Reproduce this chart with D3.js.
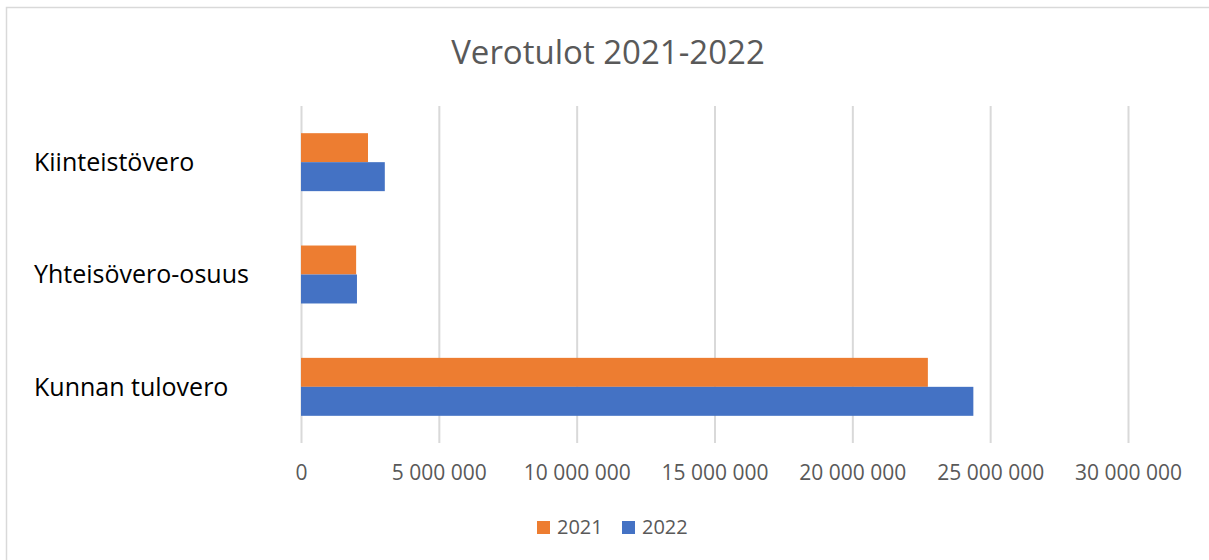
<!DOCTYPE html>
<html>
<head>
<meta charset="utf-8">
<script src="https://cdn.jsdelivr.net/npm/d3@7"></script>
<style>
  body { margin: 0; background: #fff; }
  text { font-family: "Open Sans", sans-serif; }
</style>
</head>
<body>
<script>
var categories = ["Kiinteistövero", "Yhteisövero-osuus", "Kunnan tulovero"];
var seriesNames = ["2021", "2022"];
var values2021 = [2430000, 2000000, 22740000];
var values2022 = [3040000, 2030000, 24390000];
var tickValues = [0, 5000000, 10000000, 15000000, 20000000, 25000000, 30000000];
var colors = ["#ED7D31", "#4472C4"];

var svg = d3.select("body")
    .append("svg")
    .attr("width", 1209)
    .attr("height", 560)
    .style("display", "block");

// outer chart border
svg.append("rect")
    .attr("x", 6.5)
    .attr("y", 7.5)
    .attr("width", 1220)
    .attr("height", 570)
    .attr("fill", "#fff")
    .attr("stroke", "#d9d9d9")
    .attr("stroke-width", 1.5);

var plot = {left: 301, right: 1128, top: 106, bottom: 443};

var x = d3.scaleLinear()
    .domain([0, 30000000])
    .range([plot.left, plot.right]);

var y = d3.scaleBand()
    .domain(categories)
    .range([plot.top, plot.bottom])
    .paddingInner(0.484)
    .paddingOuter(0.242);

var ySub = d3.scaleBand()
    .domain(seriesNames)
    .range([0, y.bandwidth()]);

var locale = d3.formatLocale({decimal: ",", thousands: " ", grouping: [3], currency: ["", " €"]});
var fmt = locale.format(",d");

// gridlines + tick labels
var xAxis = d3.axisBottom(x)
    .tickValues(tickValues)
    .tickSize(-(plot.bottom - plot.top))
    .tickFormat(fmt);

var gx = svg.append("g")
    .attr("transform", "translate(0," + plot.bottom + ")")
    .call(xAxis);
gx.select(".domain").remove();
gx.selectAll(".tick line").attr("stroke", "#d9d9d9").attr("stroke-width", 2);
gx.selectAll(".tick text")
    .attr("y", 30)
    .attr("dy", "0.35em")
    .attr("fill", "#595959")
    .style("font-size", "21px");

// bars
var rows = categories.map(function(c, i) {
    return {cat: c, vals: [values2021[i], values2022[i]]};
});

var groups = svg.selectAll(".grp")
    .data(rows)
    .enter()
    .append("g")
    .attr("class", "grp")
    .attr("transform", function(d) { return "translate(0," + y(d.cat) + ")"; });

groups.selectAll("rect")
    .data(function(d) { return d.vals.map(function(v, j) { return {s: seriesNames[j], v: v, j: j}; }); })
    .enter()
    .append("rect")
    .attr("x", x(0))
    .attr("y", function(d) { return ySub(d.s); })
    .attr("width", function(d) { return x(d.v) - x(0); })
    .attr("height", ySub.bandwidth())
    .attr("fill", function(d) { return colors[d.j]; });

// category labels
svg.selectAll(".cat")
    .data(categories)
    .enter()
    .append("text")
    .attr("class", "cat")
    .attr("x", 34)
    .attr("y", function(d) { return y(d) + y.bandwidth() / 2; })
    .attr("dy", "0.35em")
    .attr("fill", "#000")
    .style("font-size", "25px")
    .text(function(d) { return d; });

// title
svg.append("text")
    .attr("x", 608)
    .attr("y", 52)
    .attr("dy", "0.35em")
    .attr("text-anchor", "middle")
    .attr("fill", "#595959")
    .style("font-size", "33px")
    .text("Verotulot 2021-2022");

// legend
var legend = svg.append("g");
var legendX = [537, 622];
seriesNames.forEach(function(s, i) {
    legend.append("rect")
        .attr("x", legendX[i])
        .attr("y", 521)
        .attr("width", 13)
        .attr("height", 13)
        .attr("fill", colors[i]);
    legend.append("text")
        .attr("x", legendX[i] + 20)
        .attr("y", 527)
        .attr("dy", "0.35em")
        .attr("fill", "#595959")
        .style("font-size", "20px")
        .text(s);
});
</script>
</body>
</html>
